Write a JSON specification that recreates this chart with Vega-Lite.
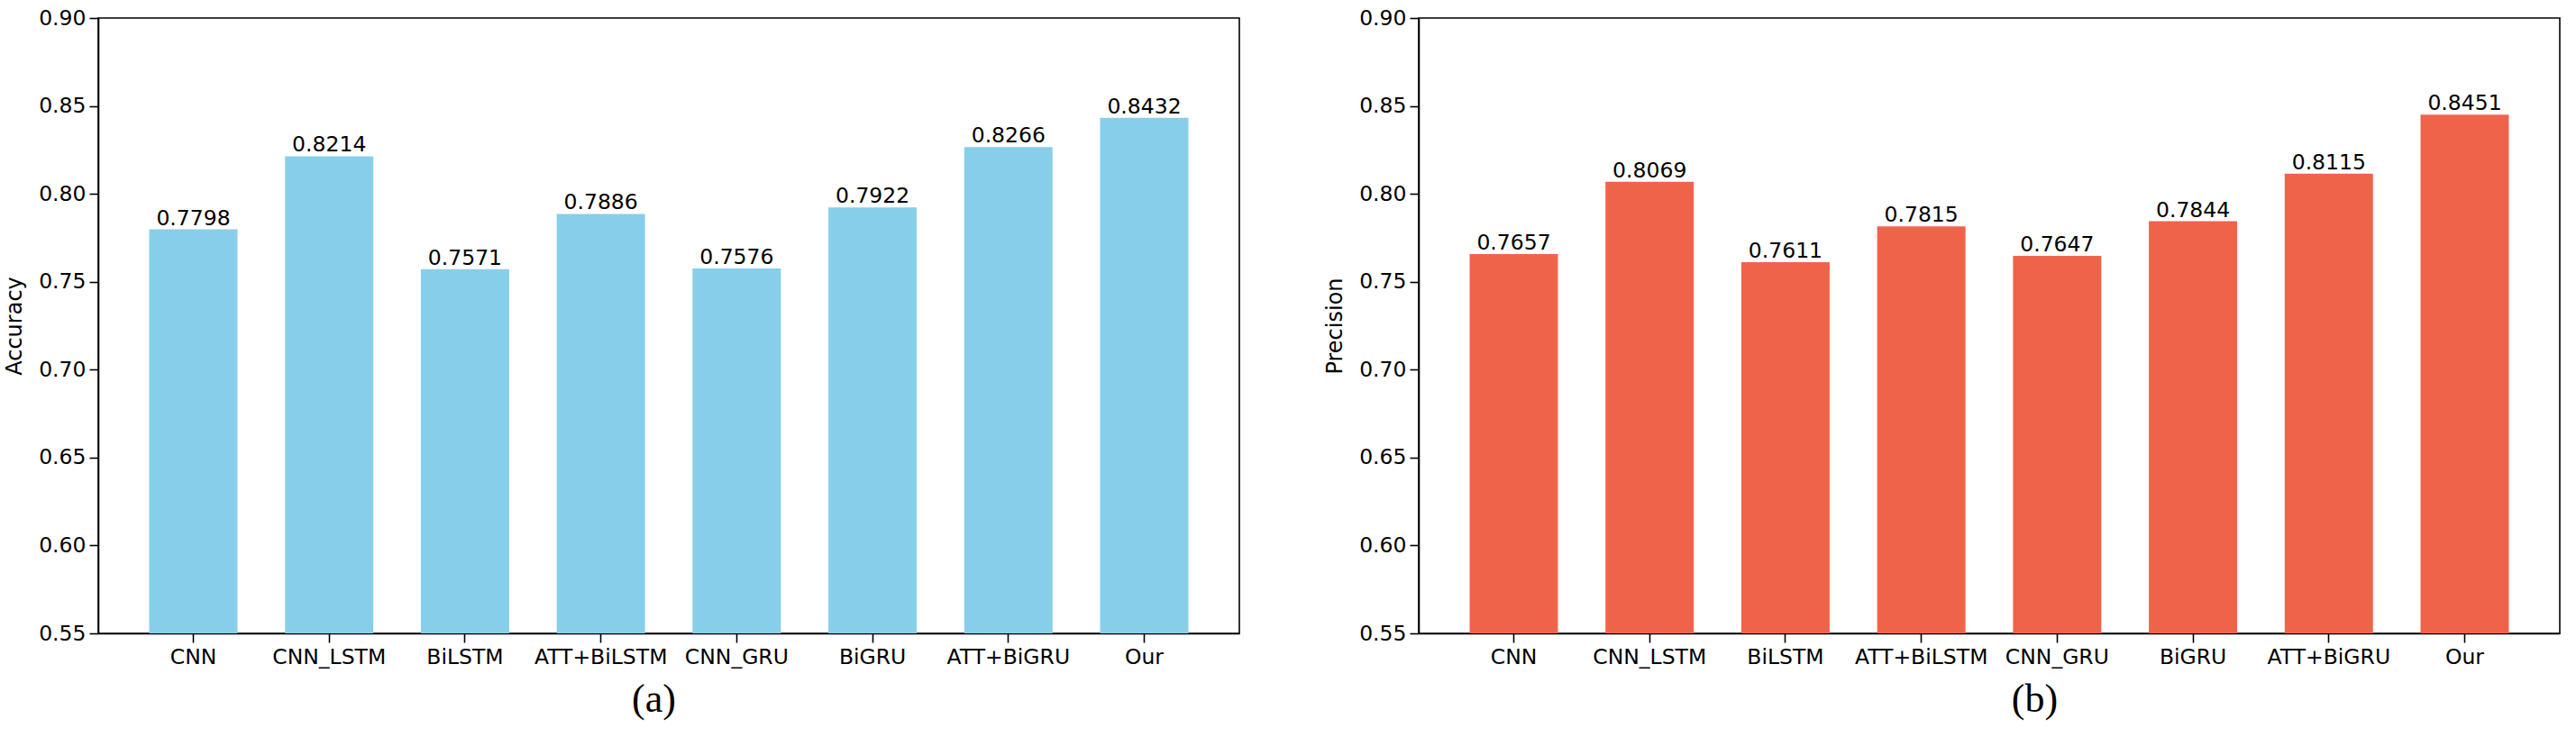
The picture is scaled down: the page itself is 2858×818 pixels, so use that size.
{
  "$schema": "https://vega.github.io/schema/vega-lite/v6.json",
  "background": "white",
  "padding": {"left": 3, "top": 7, "right": 8, "bottom": 0},
  "datasets": {
    "acc": [
      {"model": "CNN", "value": 0.7798},
      {"model": "CNN_LSTM", "value": 0.8214},
      {"model": "BiLSTM", "value": 0.7571},
      {"model": "ATT+BiLSTM", "value": 0.7886},
      {"model": "CNN_GRU", "value": 0.7576},
      {"model": "BiGRU", "value": 0.7922},
      {"model": "ATT+BiGRU", "value": 0.8266},
      {"model": "Our", "value": 0.8432}
    ],
    "prec": [
      {"model": "CNN", "value": 0.7657},
      {"model": "CNN_LSTM", "value": 0.8069},
      {"model": "BiLSTM", "value": 0.7611},
      {"model": "ATT+BiLSTM", "value": 0.7815},
      {"model": "CNN_GRU", "value": 0.7647},
      {"model": "BiGRU", "value": 0.7844},
      {"model": "ATT+BiGRU", "value": 0.8115},
      {"model": "Our", "value": 0.8451}
    ]
  },
  "config": {
    "font": "DejaVu Sans",
    "view": {"stroke": "black", "strokeWidth": 1.6},
    "axis": {
      "grid": false,
      "domainColor": "black",
      "domainWidth": 1.6,
      "tickColor": "black",
      "tickWidth": 1.6,
      "tickSize": 10,
      "labelFont": "DejaVu Sans",
      "labelFontSize": 23.5,
      "labelColor": "black",
      "titleFont": "DejaVu Sans",
      "titleFontWeight": "normal",
      "titleColor": "black"
    },
    "concat": {"spacing": 92}
  },
  "hconcat": [
    {
      "width": 1266,
      "height": 683,
      "data": {"name": "acc"},
      "encoding": {
        "x": {
          "field": "model", "type": "nominal", "sort": null,
          "scale": {"paddingInner": 0.35, "paddingOuter": 0.375},
          "axis": {"labelAngle": 0, "labelPadding": 4, "title": "(a)", "titleFont": "Liberation Serif", "titleFontSize": 44, "titlePadding": 14, "titleX": 616, "titleAnchor": "middle"}
        },
        "y": {
          "field": "value", "type": "quantitative",
          "scale": {"domain": [0.55, 0.9], "nice": false, "zero": false},
          "axis": {"values": [0.55, 0.6, 0.65, 0.7, 0.75, 0.8, 0.85, 0.9], "format": ".2f", "title": "Accuracy", "titleFontSize": 24, "titlePadding": 14, "labelPadding": 4}
        }
      },
      "layer": [
        {"mark": {"type": "bar", "color": "#87CEEB", "clip": true}},
        {"mark": {"type": "text", "baseline": "alphabetic", "dy": -5, "fontSize": 23.5, "color": "black"},
         "encoding": {"text": {"field": "value", "type": "quantitative", "format": ".4f"}}}
      ]
    },
    {
      "width": 1266,
      "height": 683,
      "data": {"name": "prec"},
      "encoding": {
        "x": {
          "field": "model", "type": "nominal", "sort": null,
          "scale": {"paddingInner": 0.35, "paddingOuter": 0.375},
          "axis": {"labelAngle": 0, "labelPadding": 4, "title": "(b)", "titleFont": "Liberation Serif", "titleFontSize": 44, "titlePadding": 14, "titleX": 683, "titleAnchor": "middle"}
        },
        "y": {
          "field": "value", "type": "quantitative",
          "scale": {"domain": [0.55, 0.9], "nice": false, "zero": false},
          "axis": {"values": [0.55, 0.6, 0.65, 0.7, 0.75, 0.8, 0.85, 0.9], "format": ".2f", "title": "Precision", "titleFontSize": 24, "titlePadding": 14, "labelPadding": 4}
        }
      },
      "layer": [
        {"mark": {"type": "bar", "color": "#F0634B", "clip": true}},
        {"mark": {"type": "text", "baseline": "alphabetic", "dy": -5, "fontSize": 23.5, "color": "black"},
         "encoding": {"text": {"field": "value", "type": "quantitative", "format": ".4f"}}}
      ]
    }
  ]
}
